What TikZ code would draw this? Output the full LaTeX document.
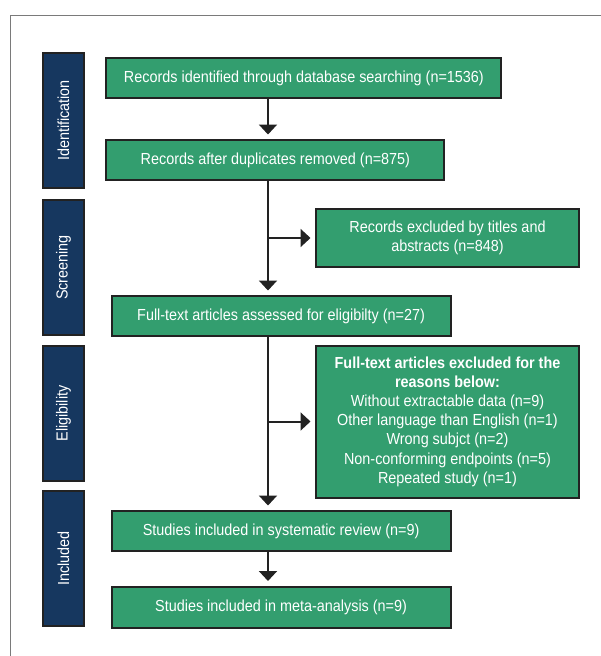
\documentclass[tikz,border=0pt]{standalone}
\usepackage{fontspec}
\setmainfont{Liberation Sans}[FakeStretch=0.9]
\usetikzlibrary{arrows.meta}
\definecolor{boxgreen}{HTML}{339E6F}
\definecolor{barnavy}{HTML}{16375F}
\definecolor{edge}{HTML}{222222}
\definecolor{framegray}{HTML}{7A7A7A}
\tikzset{
  flowbox/.style={draw=edge, line width=2pt, fill=boxgreen, text=white, align=center,
    font=\fontsize{16}{19.2}\selectfont, inner sep=0pt},
  phasebar/.style={draw=edge, line width=2pt, fill=barnavy, text=white,
    minimum width=41pt, minimum height=135pt, inner sep=0pt,
    font=\fontsize{16}{19}\selectfont},
  flowarrow/.style={draw=edge, line width=2pt, -{Triangle[width=18pt,length=10pt]}, shorten >=4.5pt}
}
\begin{document}
\begin{tikzpicture}[x=1pt,y=-1pt]
\useasboundingbox (0,0) rectangle (600,656);
\fill[white] (0,0) rectangle (600,656);
\draw[framegray, line width=1pt] (10.3,700) -- (10.3,15) -- (700,15);

% phase bars
\node[phasebar] (pid) at (63.5,120.5) {\rotatebox{90}{Identification}};
\node[phasebar] (pscr) at (63.5,267.5) {\rotatebox{90}{Screening}};
\node[phasebar] (pelig) at (63.5,413.5) {\rotatebox{90}{Eligibility}};
\node[phasebar] (pincl) at (63.5,558.7) {\rotatebox{90}{Included}};

% boxes
\node[flowbox, minimum width=395pt, minimum height=40pt] (b1) at (303.9,78)
  {Records identified through database searching (n=1536)};
\node[flowbox, minimum width=338pt, minimum height=40pt] (b2) at (275.4,160)
  {Records after duplicates removed (n=875)};
\node[flowbox, minimum width=263pt, minimum height=58pt] (ex1) at (447.5,238)
  {Records excluded by titles and\\abstracts (n=848)};
\node[flowbox, minimum width=339pt, minimum height=40pt] (b3) at (281.1,316)
  {Full-text articles assessed for eligibilty (n=27)};
\node[flowbox, minimum width=263pt, minimum height=152pt] (ex2) at (447.5,421.5)
  {\textbf{Full-text articles excluded for the}\\\textbf{reasons below:}\\
   Without extractable data (n=9)\\Other language than English (n=1)\\
   Wrong subjct (n=2)\\Non-conforming endpoints (n=5)\\Repeated study (n=1)};
\node[flowbox, minimum width=339pt, minimum height=40pt] (b4) at (281.1,531)
  {Studies included in systematic review (n=9)};
\node[flowbox, minimum width=339pt, minimum height=41pt] (b5) at (281.1,607)
  {Studies included in meta-analysis (n=9)};

% spine
\coordinate (spine) at (268,0);

% connectors
\draw[flowarrow] (b1.south -| spine) -- (b2.north -| spine);
\draw[flowarrow] (b2.south -| spine) -- (b3.north -| spine);
\draw[flowarrow] (ex1.west -| spine) -- (ex1.west);
\draw[flowarrow] (b3.south -| spine) -- (b4.north -| spine);
\draw[flowarrow] (ex2.west -| spine) -- (ex2.west);
\draw[flowarrow] (b4.south -| spine) -- (b5.north -| spine);
\end{tikzpicture}
\end{document}
